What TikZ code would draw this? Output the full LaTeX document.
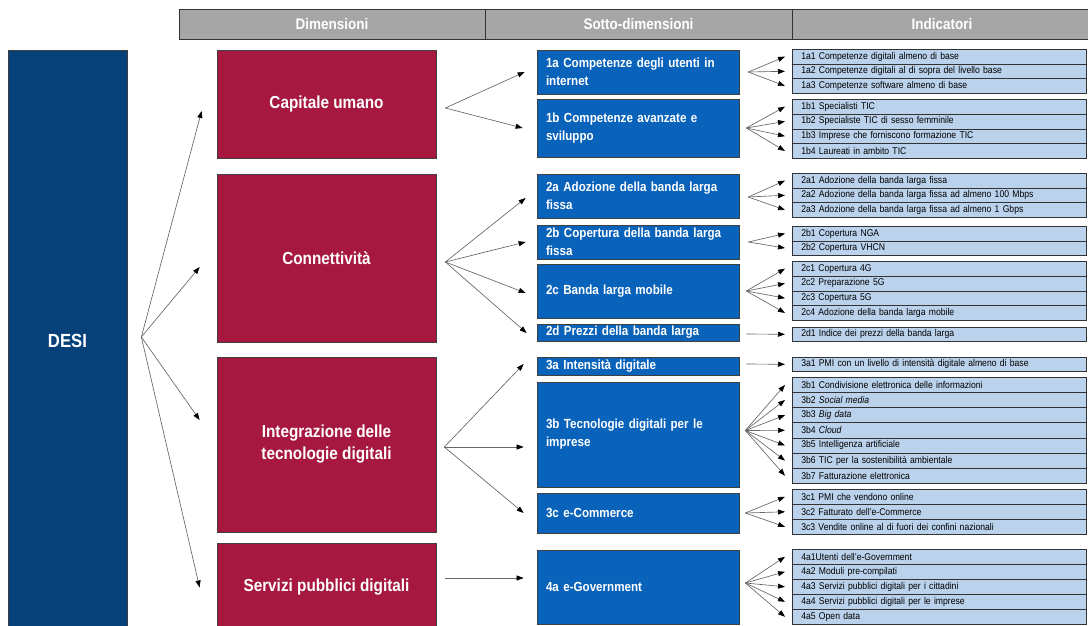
\documentclass[tikz,border=0pt]{standalone}
\usepackage{fontspec}
\setmainfont[FakeStretch=0.88]{Liberation Sans}
\usetikzlibrary{arrows.meta}
\definecolor{desiblue}{HTML}{06417A}
\definecolor{dimred}{HTML}{A6183F}
\definecolor{subblue}{HTML}{0A63BA}
\definecolor{indblue}{HTML}{BAD2EB}
\definecolor{headgray}{HTML}{A6A6A6}
\newcommand{\indgroup}[4]{%
  \foreach \itm [count=\k] in {#4} {
    \node[indrow, minimum height=#3pt] (i#1-\k) at (792,{#2+(\k-1)*#3}) {\itm};
  }%
}
\newcommand{\fanout}[3]{%
  \foreach \k in {1,...,#3} { \draw[conn] (#1) -- ([xshift=-7pt]i#2-\k.west); }%
}
\begin{document}
\begin{tikzpicture}[x=1pt,y=-1pt,
  box/.style={draw=black!75, line width=0.7pt, inner sep=0pt},
  desibox/.style={box, fill=desiblue, text=white, font=\fontsize{19}{22}\selectfont\bfseries},
  redbox/.style={box, fill=dimred, text=white, minimum width=219pt, align=center, font=\fontsize{17.4}{22}\selectfont\bfseries},
  bluebox/.style={box, fill=subblue, text=white, text width=184pt, inner xsep=9pt, align=left, font=\fontsize{13.2}{18}\selectfont\bfseries},
  indrow/.style={draw=black!80, line width=0.6pt, fill=indblue, inner ysep=0pt, inner xsep=9pt, text width=276pt, align=left, anchor=north west, font=\fontsize{9.8}{11}\selectfont},
  headcell/.style={draw=black!80, line width=0.9pt, fill=headgray, text=white, minimum height=30pt, inner sep=0pt, font=\fontsize{15.3}{18}\selectfont\bfseries},
  conn/.style={draw=black!60, line width=0.65pt, -{Triangle[length=7pt,width=5pt,color=black]}}
]
\useasboundingbox[fill=white] (0,0) rectangle (1088,626);

% header
\node[headcell, minimum width=306pt] (h1) at (332,24) {Dimensioni};
\node[headcell, minimum width=307pt] (h2) at (638.5,24) {Sotto-dimensioni};
\node[headcell, minimum width=300pt] (h3) at (942,24) {Indicatori};

% DESI
\node[desibox, minimum width=119pt, minimum height=582pt] (desi) at (67.5,341) {DESI};

% dimensions
\node[redbox, minimum height=108pt] (cap) at (326.5,104) {Capitale umano};
\node[redbox, minimum height=168pt] (con) at (326.5,258) {Connettività};
\node[redbox, minimum height=175pt] (int) at (326.5,444.5) {Integrazione delle\\tecnologie digitali};
\node[redbox, minimum height=89pt] (ser) at (326.5,587.5) {Servizi pubblici digitali};

% sub-dimensions
\node[bluebox, minimum height=44pt] (n1a) at (638,72) {1a Competenze degli utenti in\\internet};
\node[bluebox, minimum height=58pt] (n1b) at (638,128) {1b Competenze avanzate e\\sviluppo};
\node[bluebox, minimum height=44pt] (n2a) at (638,196) {2a Adozione della banda larga\\fissa};
\node[bluebox, minimum height=34pt] (n2b) at (638,242) {2b Copertura della banda larga\\fissa};
\node[bluebox, minimum height=54pt] (n2c) at (638,291) {2c Banda larga mobile};
\node[bluebox, minimum height=17pt] (n2d) at (638,332.5) {2d Prezzi della banda larga};
\node[bluebox, minimum height=18pt] (n3a) at (638,366) {3a Intensità digitale};
\node[bluebox, minimum height=105pt] (n3b) at (638,434.5) {3b Tecnologie digitali per le\\imprese};
\node[bluebox, minimum height=40pt] (n3c) at (638,513) {3c e-Commerce};
\node[bluebox, minimum height=74pt] (n4a) at (638,587) {4a e-Government};

% indicators
\indgroup{1a}{49}{14.67}{{1a1 Competenze digitali almeno di base},{1a2 Competenze digitali al di sopra del livello base},{1a3 Competenze software almeno di base}}
\indgroup{1b}{99}{14.75}{{1b1 Specialisti TIC},{1b2 Specialiste TIC di sesso femminile},{1b3 Imprese che forniscono formazione TIC},{1b4 Laureati in ambito TIC}}
\indgroup{2a}{173}{14.67}{{2a1 Adozione della banda larga fissa},{2a2 Adozione della banda larga fissa ad almeno 100 Mbps},{2a3 Adozione della banda larga fissa ad almeno 1 Gbps}}
\indgroup{2b}{226}{14.5}{{2b1 Copertura NGA},{2b2 Copertura VHCN}}
\indgroup{2c}{261}{14.75}{{2c1 Copertura 4G},{2c2 Preparazione 5G},{2c3 Copertura 5G},{2c4 Adozione della banda larga mobile}}
\indgroup{2d}{327}{14}{{2d1 Indice dei prezzi della banda larga}}
\indgroup{3a}{357}{14}{{3a1 PMI con un livello di intensità digitale almeno di base}}
\indgroup{3b}{377}{15.14}{{3b1 Condivisione elettronica delle informazioni},{3b2 \textit{Social media}},{3b3 \textit{Big data}},{3b4 \textit{Cloud}},{3b5 Intelligenza artificiale},{3b6 TIC per la sostenibilità ambientale},{3b7 Fatturazione elettronica}}
\indgroup{3c}{489}{15}{{3c1 PMI che vendono online},{3c2 Fatturato dell'e-Commerce},{3c3 Vendite online al di fuori dei confini nazionali}}
\indgroup{4a}{549}{15}{{4a1Utenti dell'e-Government},{4a2 Moduli pre-compilati},{4a3 Servizi pubblici digitali per i cittadini},{4a4 Servizi pubblici digitali per le imprese},{4a5 Open data}}

% DESI -> dimensions
\coordinate (od) at ([xshift=14pt,yshift=4pt]desi.east);
\draw[conn] (od) -- ([xshift=-15pt,yshift=-7pt]cap.west);
\draw[conn] (od) -- ([xshift=-17pt,yshift=-9pt]con.west);
\draw[conn] (od) -- ([xshift=-17pt,yshift=24.5pt]int.west);
\draw[conn] (od) -- ([xshift=-17pt]ser.west);

% dimensions -> sub-dimensions
\coordinate (ocap) at ([xshift=9pt,yshift=-4pt]cap.east);
\draw[conn] (ocap) -- ([xshift=-12pt]n1a.west);
\draw[conn] (ocap) -- ([xshift=-14pt]n1b.west);
\coordinate (ocon) at ([xshift=9pt,yshift=-4pt]con.east);
\draw[conn] (ocon) -- ([xshift=-11pt,yshift=-2pt]n2a.west);
\draw[conn] (ocon) -- ([xshift=-11pt]n2b.west);
\draw[conn] (ocon) -- ([xshift=-11pt,yshift=-2pt]n2c.west);
\draw[conn] (ocon) -- ([xshift=-10pt,yshift=-0.5pt]n2d.west);
\coordinate (oint) at ([xshift=8pt,yshift=-2.5pt]int.east);
\draw[conn] (oint) -- ([xshift=-13pt,yshift=2pt]n3a.west);
\draw[conn] (oint) -- ([xshift=-13pt,yshift=-12.5pt]n3b.west);
\draw[conn] (oint) -- ([xshift=-13pt]n3c.west);
\coordinate (oser) at ([xshift=9pt,yshift=9.5pt]ser.east);
\draw[conn] (oser) -- ([xshift=-13pt,yshift=9pt]n4a.west);

% sub-dimensions -> indicators
\coordinate (o1a) at ([xshift=9pt]n1a.east);   \fanout{o1a}{1a}{3}
\coordinate (o1b) at ([xshift=7pt]n1b.east);   \fanout{o1b}{1b}{4}
\coordinate (o2a) at ([xshift=9pt,yshift=-1pt]n2a.east);   \fanout{o2a}{2a}{3}
\coordinate (o2b) at ([xshift=9pt]n2b.east);   \fanout{o2b}{2b}{2}
\coordinate (o2c) at ([xshift=7pt]n2c.east);   \fanout{o2c}{2c}{4}
\coordinate (o2d) at ([xshift=7pt,yshift=-1.5pt]n2d.east); \fanout{o2d}{2d}{1}
\coordinate (o3a) at ([xshift=7pt,yshift=2pt]n3a.east); \fanout{o3a}{3a}{1}
\coordinate (o3b) at ([xshift=6pt,yshift=4pt]n3b.east);   \fanout{o3b}{3b}{7}
\coordinate (o3c) at ([xshift=6pt]n3c.east);   \fanout{o3c}{3c}{3}
\coordinate (o4a) at ([xshift=6pt,yshift=4pt]n4a.east);   \fanout{o4a}{4a}{5}
\end{tikzpicture}
\end{document}
